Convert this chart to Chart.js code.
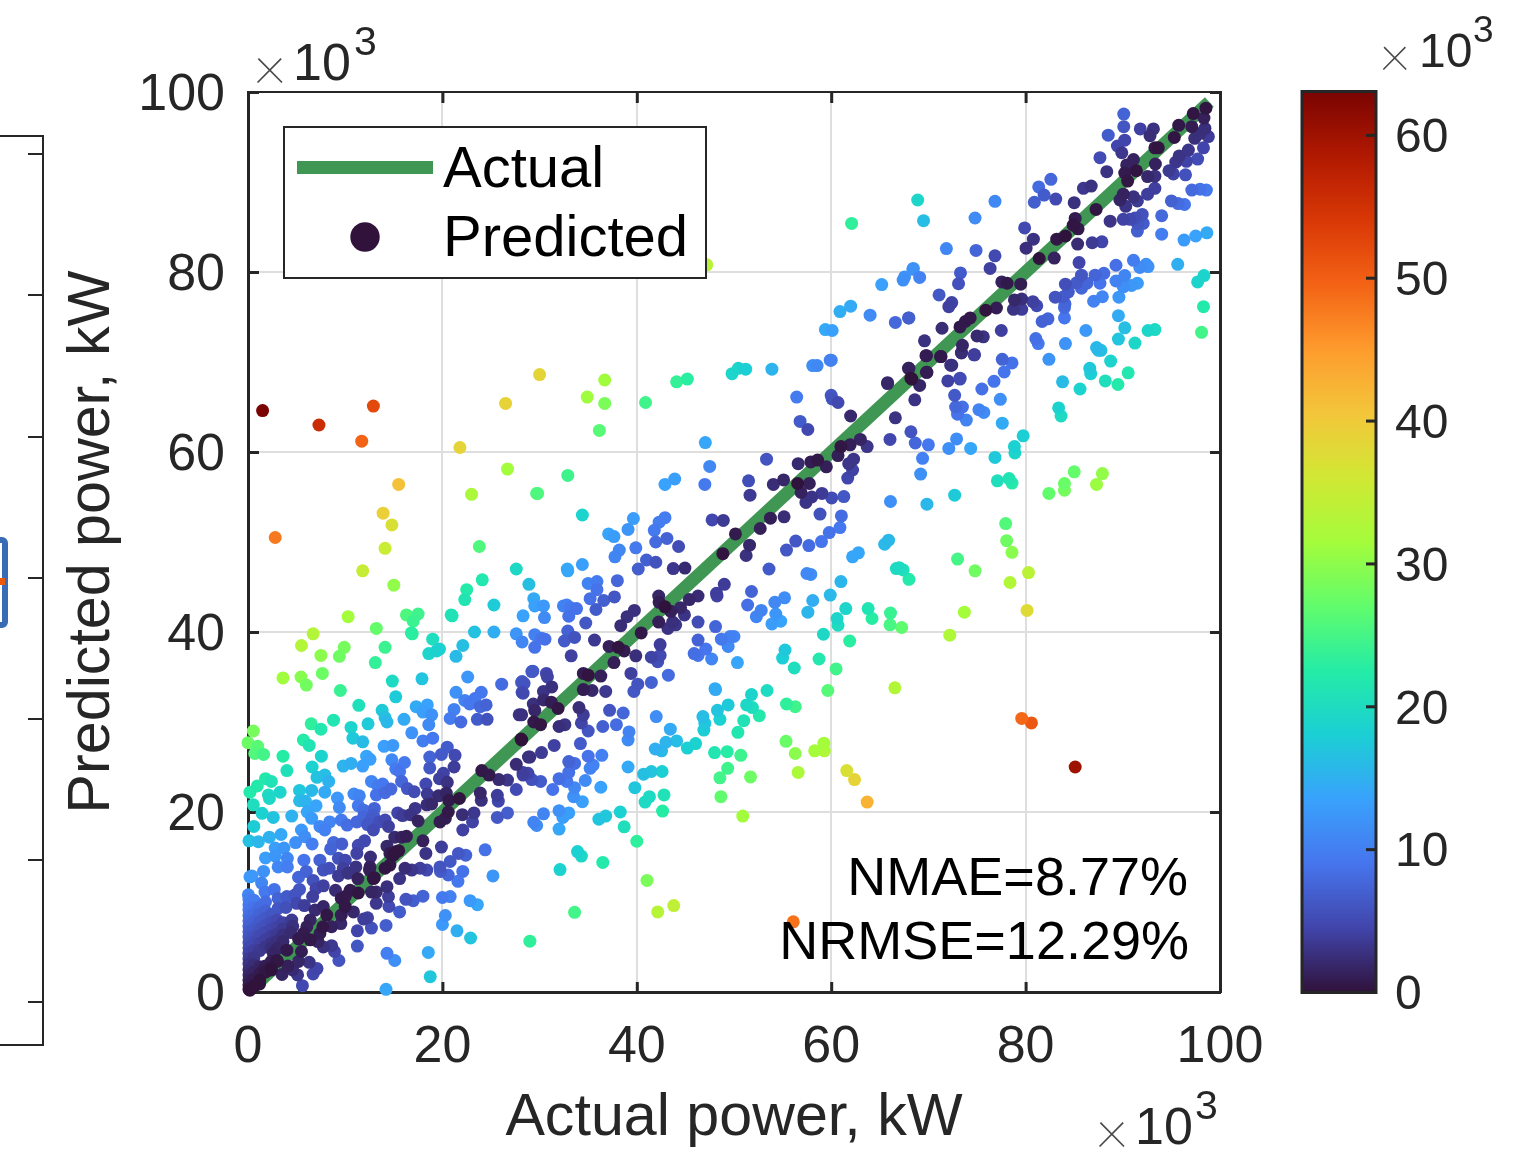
<!DOCTYPE html>
<html>
<head>
<meta charset="utf-8">
<title>Actual vs predicted power</title>
<script src="https://cdn.jsdelivr.net/npm/chart.js@4/dist/chart.umd.min.js"></script>
<style>
  html, body { margin: 0; padding: 0; background: #fff; }
  canvas { display: block; }
</style>
</head>
<body>
<canvas id="scatterChart" width="1534" height="1161"></canvas>
<script>
// all values in kW x 10^3, [actual, predicted]
const outliers = [[1.5,64.6],[7.3,63],[12.9,65.1],[11.7,61.2],[26.5,65.4],[21.8,60.5],[15.5,56.4],[26.7,58.1],[23,55.3],[29.7,55.4],[13.9,53.2],[14.8,51.9],[2.8,50.5],[14.1,49.3],[23.8,49.5],[11.8,46.8],[15,45.2],[79.6,30.4],[80.6,29.9],[85.1,25],[61.6,24.6],[62.4,23.6],[63.7,21.1],[56.1,7.8],[47.2,80.8],[62.1,85.4]];

const lowRange = [[27.6,47],[24.1,45.8],[28.9,45.3],[22.5,44.7],[22.3,43.6],[25.3,43],[29.4,43.7],[29.5,42.9],[28.3,41.8],[10.3,41.7],[16.3,41.9],[17.5,42],[17,41.2],[20.9,41.9],[21,41.8],[23.3,40],[25.3,40],[27.6,39.8],[29.5,39.7],[28.2,38.9],[29.5,38.3],[16.8,39.9],[16.9,39.8],[13.2,40.4],[6.7,39.8],[5.5,38.5],[9.9,38.3],[7.5,37.4],[9.4,37.3],[14.1,38.3],[19,39.2],[19.7,38.1],[19.4,37.9],[18.6,37.6],[22.1,38.5],[21.4,37.3],[13.1,36.6],
[3.6,34.9],[5.45,35],[6,34.1],[7.65,35.4],[9.5,33.5],[14.85,34.55],[15.2,32.8],[17.9,34.8],[22.6,35],[21.4,33.3],[22.3,32.4],[23.35,32.6],[24,33.3],[22.8,32],[24.5,31.9],[23.9,31.7],[26.1,34.2],[28.2,34.5],[28.4,34.3],[28.2,33.3],[27.9,30.8],[29.2,35.6],[21.2,31.4],[20.8,30.4],[21.9,30],[23.6,30.3],[24.6,30.3],[11.4,31.85],[13.8,31.3],[14.1,30.5],[14.3,30],[12.35,29.8],[16.05,30.3],[17.3,31.7],[18.45,31.9],[18,31.1],[18.9,30.8],[18.6,29.7],[16.85,28.8],[18,27.9],[19,28.2],[6.5,29.8],[7.5,29.2],[8.8,30.2],[10.6,29.4],[10.8,28.2],[11.8,27.8],[5.7,28],[6.3,27.4],[0.55,29],[0,27.7],[1,27.3],[0.7,26.5],[1.6,26.4],[3.6,26.2],[7.55,26.2],[4,24.6],[6.6,25],[9.8,25.1],[10.6,25.4],[11.8,25.1],[12.2,26.2],[12.55,25.85],[14,27.3],[14.9,27.4],[14.8,25.8],[16.1,25.5],[15.2,24.8],[15.6,24.5],[18.7,26.1],[18.7,24.9],[19.9,26.4],[20.5,27.2],[21.3,26.3],[21.2,25],[20.1,24.3],[19.7,23.7],[20.5,23.3],[18.3,23.1],[18.45,22],[19.6,21.8],[20.4,22.1],[18.4,20.8],[18.9,20.9],[20.65,21.3],[21.75,21.5],[17.2,20.4],[16.7,19.7],[15.4,19.9],[15.9,19.6],[17.5,19],[20.6,20],[20.3,19.3],[19.75,18.9],[22.05,19.7],[23.25,19.9],[23.1,18.9],[22.1,18],[23.9,22.1],[24,21.3],[25.65,21.85],[25.75,21.2],[26.7,19.9],[25.65,19.4],[27.6,22.5],[27.6,25.3],[28.3,24.4],[28.85,26.1],[25.8,23.6],[26.7,23.55],[24.05,24.6],[24.8,24.1],[28.1,28.1],
[1.8,23.7],[2.4,23.4],[0.96,22.9],[0.2,22.2],[2.1,21.9],[2.2,21.5],[3.3,22.2],[5.3,22.4],[6.55,22.4],[7.9,22.2],[5.3,21.25],[5.9,21.2],[0.55,20.8],[1.45,19.85],[2.6,19.4],[4.5,19.55],[0.6,18.4],[0.1,16.8],[1.07,16.7],[2.2,17.2],[3.4,17.5],[2.8,16],[3.7,16],[4.05,14.85],[2.8,15.1],[1.8,14.9],[3.1,13.9],[4.05,13.9],[7.1,23.85],[7.9,24.1],[8.3,23.4],[9.2,21.55],[9.4,20.5],[10.9,22],[11.45,21.8],[11.35,20.7],[11.9,20.2],[13,20.4],[12.7,23.4],[13.35,22.9],[13.85,23.1],[14.7,22.55],[14.1,22.15],[13.2,21.9],[15.8,23.4],[16.4,22.6],[17.1,22.25],[12.9,19.65],[12.65,19.1],[11.9,19.5],[7,20.7],[6.1,20],[6.55,19.3],[8.4,18.9],[7.9,18],[7.4,18.4],[5.5,18],[5.85,17.25],[4.9,16.6],[6.6,16.45],[9.6,19.1],[10.2,18.55],[11.2,18.9],[12.3,18.6],[12.9,18],[13.5,18.9],[14.1,19.1],[14.45,18.4],[8.8,16.6],[9.65,16.45],[8.5,15.9],[5.75,14.65],[7.4,14.65],[11.35,16.3],[12,16.8],[11.2,15.4],[15.1,17.2],[15.8,17.2],[16.3,17.3],[14.3,16.2],[18,16.8],[19.9,16.1],[18.3,15.4],[15.3,15.6],[14.6,15.4],[12.6,15],[9.3,14.85],[10,14.65],[11.1,13.9],[12.55,13.9],[14.6,14.1],[12.5,13.55],[8.35,13.75],[7.75,13.55],[6,13.4],[9.8,13.75],[9.3,12.9],[5.2,12.75],[10.3,13.2],[6.7,12.4],[7.75,11.8],[7,11.5],[5.3,11.4],[4.85,10.8],[6.65,10.6],[9,11.3],[11.3,12.6],[12.9,12.6],[14.1,13.75],[16.15,13.75],[16.85,13.55],[17.7,13.75],[18.4,13.55],[15.6,12.6],[14.3,11.7],[14.45,10.6],[13.2,11.1],[12.7,11.1],[13.2,9.85],[14.5,9.5],[15.6,8.9],[19.75,13.9],[19.8,13.4],[20.6,13],[21.6,12.3],[22.1,13.4],[20.8,14.5],[21.65,15.4],[22.4,15.2],[24.4,15.8],[25.2,12.9],[16.25,10.3],[17,10.15],[18,10.65],[20,10.5],[20.8,10.6],[22.85,10.15],[23.6,9.7],[20.3,8.5],[20,7.5],[21.5,6.8],[22.9,6],[18.55,4.4],[18.75,1.7],[14.2,0.3],[14.3,4.3],[15.1,3.5],[11.25,5.1],[12.7,7.1],[14.2,7.4],[11.25,6.8],[11.9,8.1],[12.3,8.25],[10.85,8.9],[9.35,3.5],[8.9,4.5],[8.6,5.15],[7.75,5],[7.2,5.6],[7.1,2.6],[6.7,2],[5.6,0.7],[5.1,1.9],[3.5,1.95],[4.6,2.45]];

const nearOrigin = [[15.5,15.7],[14.95,15.2],[13,12.7],[10.5,11.3],[11.35,11],[10,10.6],[9.6,10.4],[10,9.5],[9.6,8.55],[8.1,8.55],[7.75,9.5],[7.7,7.25],[8.6,7.25],[9.55,7.6],[6.4,8],[6.05,7.25],[5.7,6.5],[5.2,5.9],[6.4,5.8],[7.4,6.5],[4,4.65],[5.5,4.5],[5.2,3.4],[2.6,4.3],[3,3.4],[2.4,2.45],[1.6,2.45],[1.2,1.3],[0.2,0.2],[4.5,8],[3.1,10.4],[4,10.6],[1.6,13.4],[0.2,12.8],[0.4,12.9],[1.4,12.1],[1.75,11.1],[0.04,10.8],[3.1,9.3],[5,9.85],
[0.1,0.3],[0.1,0.8],[0.1,1.3],[0.1,1.9],[0.1,2.5],[0.1,3.1],[0.1,3.7],[0.1,4.3],[0.1,4.9],[0.1,5.5],[0.1,6.1],[0.1,6.7],[0.1,7.3],[0.1,7.9],[0.1,8.5],[0.1,9.1],[0.1,9.7],[0.1,10.3],
[0.6,0.6],[0.6,1.4],[0.6,2.2],[0.6,3],[0.6,3.8],[0.6,4.6],[0.6,5.4],[0.6,6.2],[0.6,7],[0.6,7.8],[0.6,8.6],[0.6,9.4],[0.6,10.2],
[1.2,0.9],[1.2,2],[1.2,2.8],[1.2,4.6],[1.2,5.4],[1.2,6.2],[1.2,7],[1.2,7.8],[1.2,8.6],[1.2,9.4],
[1.8,2.2],[1.8,2.9],[1.8,5],[1.8,5.8],[1.8,6.6],[1.8,7.4],[1.8,8.2],[1.8,9],[1.8,10],
[2.4,2.7],[2.4,3.4],[2.4,4.9],[2.4,5.4],[2.4,6.2],[2.4,7],[2.4,7.8],[2.4,8.6],
[3,3.5],[3,4.8],[3,5.6],[3,6.4],[3,7.2],[3,8],
[3.6,5.6],[3.6,6.3],[3.6,7],[3.6,7.7],[4.1,2.9],[4.4,6.6],[4.6,7.3],[3.9,9.4],[2.7,11.4],[6.3,3.3],[5.8,9.6],[6.9,9.1]];

const midRange = [[30,68.6],[36.7,68],[34.9,66.1],[36.7,65.4],[36.15,62.4],[40.9,65.5],[44.1,67.8],[45.2,68.1],[49.8,68.7],[50.45,69.3],[51.2,69.2],[53.9,69.2],[58.55,69.6],[60,70.2],[47.05,61.05],[47.5,58.4],[43.9,57],[42.9,56.4],[47,56.4],[56.45,66.1],[60.1,65.9],[60.7,65.5],[62,64],[65.8,67.6],[66.6,63.8],[56.8,63.4],[57.6,62.5],[66.05,61.4],[61,60.6],[61.95,60.8],[63,61.4],[63.7,60.6],[60.7,59.6],[53.35,59.2],[56.6,58.7],[57.9,58.9],[58.6,59.1],[59.5,58.35],[62.3,59.2],[61.8,58.7],[62.2,58],[61.7,57.1],[51.5,56.8],[51.65,55.2],[54.05,56.4],[55.1,56.9],[56.55,56.5],[57.75,56.5],[56.9,55.5],[58,55],[57.4,54.4],[59.05,55.4],[60.05,54.9],[61.3,55.05],[58.85,53.1],[61.05,52.9],[60.9,51.6],[59.8,51.05],[59,50.05],[57.7,49.6],[56.35,50.1],[55.4,49.1],[66.1,54.5],[65.9,50.2],[65.5,49.75],[62.8,48.8],[62.2,48.35],[55.15,52.8],[53.75,52.65],[52.7,51.5],[50.15,50.9],[51.6,49.65],[51.25,48.5],[48.85,48.7],[47.75,52.45],[48.9,52.4],[39.65,52.6],[42.9,52.7],[42.3,52.2],[39.1,51.4],[41.8,51.3],[43.1,50.4],[41.95,50],[44.3,49.5],[37.1,50.9],[37.65,50.6],[34.4,53],[32.9,57.4],[29.8,55.4],[38.2,49.1],[37.75,48.35],[39.9,49.35],[41,48],[41.95,47.75],[40.15,47],[43.75,47.05],[44.95,47.1],[32.85,47],[32.9,46.8],[34.4,47.5],
[30.4,42.9],[30.5,41.6],[32.8,43],[32.45,42.9],[33.8,42.6],[33,41.75],[33.2,42.7],[35,45.4],[35.9,45.6],[35.9,44.7],[38,45.7],[35.2,43.7],[36.6,43.5],[37.7,43.9],[35.8,42.5],[34.75,41],[32.9,40.1],[33.6,39.4],[32.55,39],[35.65,39.1],[33.25,37.35],[39.75,42.4],[39,41.7],[38.35,40.7],[42.25,44],[42.3,43.3],[42.9,42.8],[43.5,42.3],[44.5,42.7],[44.9,41.9],[45.4,43.6],[46.3,44],[48.2,44.3],[48.25,44],[49,45.3],[51.8,44.5],[53.6,47],[57.5,46.5],[57.9,46.4],[61,45.6],[59.9,44.1],[58.1,43.5],[55.2,43.8],[54.2,43.3],[51.4,43],[52.8,42.4],[52.3,41.7],[54.3,42],[54.8,41.2],[53.9,40.9],[57.6,42.2],[61.5,42.6],[60.6,41.5],[60.7,40.75],[63.8,42.6],[64.2,41.5],[66.1,42.1],[66.05,40.8],[67.25,40.5],[42.25,41.1],[43.7,41.1],[44,40.8],[43.2,40.4],[40.45,39.9],[46.3,41.1],[48.1,40.6],[46.3,39.1],[48.7,39.2],[49.6,39.5],[50,39.5],[49.4,38.4],[47.1,38.1],[45.9,37.6],[46.3,37.4],[47.7,37],[50.35,36.6],[42.4,38.6],[42.4,37.4],[41.5,37.2],[42.15,36.7],[43.25,35.2],[39.9,37.35],[37.15,38.4],[38.1,38.3],[38.7,37.9],[37.65,36.6],[39.4,35.4],[40.1,34.2],[39.7,33.4],[41.5,34.4],[35,35.2],[34.5,35.4],[36.3,35.1],[34.5,33.6],[35.4,33.5],[36.8,33.4],[29.3,35.65],[30.7,35.4],[30.8,35],[31.25,33.9],[30.4,33.4],[28.15,34.4],[28.3,33.2],[59.2,39.75],[61.9,39],[55.25,38],[55,37.1],[56.2,36],[58.75,37],[60.5,35.9],[59.65,33.5],[66.55,33.8],[30.2,39.3],[30.55,39.2],[48.05,33.7],[48.1,33.6],[51.8,33.05],[53.4,33.5],[66.7,47.05],
[49.4,31.9],[48.3,31.3],[46.8,30.6],[47,29.85],[46.9,29.1],[48.55,30.3],[51.3,31.9],[51.9,31.6],[52.6,30.7],[51,30.15],[50.4,28.85],[55.4,32],[56.3,31.7],[42,30.6],[43.45,29.2],[44.1,27.9],[43,27.75],[45.2,27.1],[46.05,27.6],[41.9,27],[42.55,26.8],[48,26.6],[49.3,26.7],[50.7,26.3],[55.35,27.85],[56.3,26.5],[59.25,27.65],[58.3,26.8],[59.3,26.8],[49.35,24.85],[48.55,23.8],[51.7,23.9],[56.6,24.4],[48.65,21.7],[50.9,19.55],[39.1,25],[40.7,24.2],[41.5,24.5],[42.6,24.5],[39.8,22.7],[36.3,22.75],[42.8,21.9],[41.3,21.7],[40.85,21.1],[42.65,20.1],[38.3,20],[36.8,19.55],[36.1,19.2],[38.7,18.35],[40,16.75],[36.5,14.4],[33.9,15.6],[34.3,15.1],[32.1,13.6],[41.05,12.4],[33.6,8.85],[29,5.65],[42.15,8.9],[43.8,9.6],
[32,20.15],[33,19.9],[32.4,19.4],[32,18.1],[30.4,19.8],[29.4,18.85],[29.7,18.5],[34.4,21.15],[33.5,21.7],[33.6,22.7],[34.7,23.5],[32.8,23.4],[32,23.7],[31.35,22.5],[30.1,23.4],[33,24.4],[33,25.6],[33.6,25.4],[35.2,24.85],[35.5,25.2],[35,26.2],[36.4,26.3],[34.2,27.6],[31.5,27.4],[30.2,26.6],[29,26.1],[35,29],[36.5,29.5],[37.9,29.7],[39.2,28.9],[39.1,28],[37.2,31.3],[38.6,31],[34.05,31.6],[34.5,30.8],[34.3,29.9],[32.6,29.7],[32,29.5],[30.1,29.7],[29.4,30],[29.5,31.3],[29.35,32],[30.4,32.45],[31.2,32.2],[31.9,31.5],[28.15,30.8],[28.15,28],[28.8,24.3],[28.3,24.1],[29.2,23.6],
[62,76.2],[60.9,75.6],[59.4,73.6],[60.1,73.5],[59.9,70.2],[58.1,69.6],[64,75.2],[65.2,78.6],[66.6,74.4],[67.4,79.1],[68.4,80.3],[68,74.9],[60,66.3]];

const highRange = [[69.8,70.7],[71.3,70.6],[73.4,71],[74.75,70.8],[77.6,70.3],[78.6,69.9],[82.4,70.3],[77.8,68.9],[76.75,67.85],[72.4,69.65],[69.85,68.85],[68,69.3],[68.3,68.1],[65.8,67.7],[69.1,67.4],[72,67.9],[73.25,68.1],[68.6,65.8],[75.5,67],[77.4,65.85],[72.7,66.3],[73.5,65],[72.8,65],[73,64.2],[73.9,63.55],[75.2,64.7],[75.7,64.4],[77.6,63.2],[68.2,62.25],[68.65,61],[70,60.8],[72.9,61.45],[72.1,60.4],[74.35,60.4],[69.4,59.3],[69.2,57.55],[76.85,59.4],[78.85,60.6],[78.9,59.9],[79.75,61.8],[77.1,56.8],[78.3,57.05],[78.6,56.55],[72.7,55.2],[69.85,54.2],[85,57.8],[84,56.5],[84,55.75],[82.4,55.4],[87.9,57.6],[87.3,56.4],[77.95,52.05],[78.05,50.15],[78.6,48.85],[73,48.1],[74.8,46.8],[80.3,46.6],[78.4,45.5],[80.15,42.4],[73.7,42.2],[72.2,39.65],[67,47.15],[67.4,46.9],[68,45.85],[87.5,71.3],[88.75,70.1],[90.55,68.8],[86.6,69.3],[86.7,68.7],[83.8,67.8],[85.6,67],[88.2,67.9],[89.5,67.5],[83.4,64.9],[83.65,64],
[90.1,97.55],[90.1,96.15],[91.8,95.9],[88.5,95.2],[93.15,95.9],[92.8,95.15],[90.2,94.65],[89.45,94],[89.9,93.25],[95.75,96.3],[97.25,97.6],[98.55,98.2],[98.35,97.1],[97.1,96.15],[95.3,94.95],[98.45,95.95],[97.95,95.4],[97.4,94.85],[98.8,95.05],[98.3,93.8],[93.3,93.8],[93.65,93.8],[87.65,92.7],[88.35,91.15],[91.1,92.5],[90.4,91.9],[90.2,91],[91.4,91.25],[90.5,90.1],[92.55,90.6],[93.3,90.65],[93.35,92],[95.8,92.9],[96.75,93.55],[96.55,92.3],[95.45,92.2],[97.7,92.55],[94.75,91.25],[95.2,90.9],[96.45,90.8],[82.6,90.3],[81.35,89.45],[81.9,88.55],[83.1,88.1],[80.9,87.75],[85.95,89.3],[86.75,89.55],[85,87.7],[93.3,89.3],[92.55,88.65],[90.05,88.65],[89.7,88],[91.1,88.35],[91.5,87.9],[90.3,87.3],[87.25,86.95],[97.1,89.1],[97.95,89.2],[98.6,89.1],[95,87.9],[95.7,87.6],[96.35,87.5],[92,86.4],[91.25,86],[90.05,85.85],[90.75,85.85],[88.7,85.65],[94,86.25],[92.1,85.4],[91.5,85.4],[91.5,84.55],[85.1,85.95],[84.9,85.2],[85.4,84.8],[94,84.2],[96.3,83.55],[97.5,84],[98.65,84.35],[79.9,84.9],[80.8,83.65],[80.05,82.65],[83.2,83.65],[84.1,84],[85.35,83.1],[86.85,83.25],[87.85,83.35],[81.4,81.5],[82.95,81.55],[85.5,81.05],[89.3,80.75],[91.1,81.3],[91.75,80.5],[92.4,80.85],[92.6,80.6],[95.65,80.85],[68.9,88],[69.5,85.7],[76.85,87.85],[74.8,86],[71.85,82.6],[74.9,82.4],[76.85,81.8],[76.35,80.4],[68.45,80.4],[69.1,79.4],[67.55,79.45],[73.3,79.9],[73.1,78.7],[77.55,78.9],[78.1,78.75],[79.5,78.65],[71.1,77.45],[72.4,76.6],[72.1,76.15],[78.85,76.9],[79.6,77],[78.75,75.85],[79.6,75.85],[80.75,76.7],[81.15,76.25],[77,76],[75.9,75.75],[67.95,74.9],[74.3,74.9],[73.8,74.5],[73.25,73.9],[71.4,73.75],[77.5,73.5],[75,72.9],[75.65,72.8],[69.6,72.35],[73.5,71.85],[73.4,71.05],[69.75,70.7],[71.25,70.6],[74.7,70.8],[72.3,69.65],[67.95,69.3],[69.8,68.85],[68.2,68.2],[73.25,68.2],
[84.1,78.65],[85.75,79.65],[85.25,78.8],[85.75,78.2],[86.3,78.75],[87.15,79.65],[88.05,79.85],[87.65,78.75],[89.3,79],[90.2,79.6],[90.05,78.35],[90.9,78.5],[91.5,78.75],[89.6,77.2],[87.9,77.25],[87,76.75],[83.05,77.2],[83.9,77.25],[84.4,77.8],[84.05,76.45],[84,76.05],[84,74.9],[82.3,74.8],[81.7,74.5],[86.2,73.5],[89.55,75.15],[90.2,73.8],[89.55,72.55],[92.6,73.5],[93.3,73.6],[91.25,72.1],[84.1,72.05],[81.05,72.6],[81.3,72.05],[87.3,71.6],[87.75,71.3],[97.7,78.9],[98.35,79.6],[98.3,76.15],[98.1,73.3]];

const diagonalEnds = [0, 98.9];
const axisTicks = [0, 20, 40, 60, 80, 100];
const colorbarTicks = [0, 10, 20, 30, 40, 50, 60];
const colorbarMax = 63;

// turbo colormap, evenly spaced
const turbo = ['#30123b','#4145ab','#4675ed','#39a2fc','#1bcfd4','#24eca6','#61fc6c','#a4fc3b','#d1e834','#f3c63a','#fe9b2d','#f36315','#d93806','#b11901','#7a0402'];

const INK = '#262626';
const GREEN = '#409653';
const SANS = '"Liberation Sans", Arial, sans-serif';

function hexToRgb(hex) {
  return [1, 3, 5].map(i => parseInt(hex.substr(i, 2), 16));
}

function errorColor(err) {
  let t = Math.min(err / colorbarMax, 1) * (turbo.length - 1);
  let i = Math.min(Math.floor(t), turbo.length - 2);
  let a = hexToRgb(turbo[i]);
  let b = hexToRgb(turbo[i + 1]);
  let c = a.map((v, k) => Math.round(v + (b[k] - v) * (t - i)));
  return 'rgb(' + c.join(',') + ')';
}

// dark points (small error) end up on top
let points = outliers.concat(lowRange, nearOrigin, midRange, highRange)
  .map(p => ({ x: p[0], y: p[1] }))
  .sort((p, q) => Math.abs(q.x - q.y) - Math.abs(p.x - p.y));

function drawExponent(ctx, x, y, size, gap3) {
  ctx.textAlign = 'left';
  ctx.textBaseline = 'alphabetic';
  // thin cross like the reference
  ctx.fillStyle = '#4a4a4a';
  ctx.font = '100 ' + Math.round(size * 1.2) + 'px Roboto, ' + SANS;
  ctx.fillText('×', x, y + 3);
  ctx.fillStyle = INK;
  ctx.font = size + 'px ' + SANS;
  ctx.fillText('10', x + 39, y);
  ctx.font = Math.round(size * 0.78) + 'px ' + SANS;
  ctx.fillText('3', x + gap3, y - 25);
}

// the neighbouring panel that is cut off at the left edge
function drawLeftPanel(ctx) {
  ctx.fillStyle = INK;
  ctx.fillRect(0, 135, 44, 2);
  ctx.fillRect(0, 1044, 44, 2);
  ctx.fillRect(42, 135, 2, 911);
  [154, 295, 437, 578, 719, 860, 1002].forEach(y => ctx.fillRect(28, y - 1, 15, 2));
  ctx.strokeStyle = '#3a6cb5';
  ctx.lineWidth = 6;
  ctx.beginPath();
  ctx.roundRect(-40, 540, 45, 85, 3);
  ctx.stroke();
  ctx.fillStyle = '#e8590c';
  ctx.fillRect(0, 578, 5, 7);
}

function drawFrame(ctx, area, xs, ys) {
  ctx.fillStyle = INK;
  ctx.fillRect(area.left - 1, area.top - 1, area.width + 2, 2);
  ctx.fillRect(area.left - 1, area.bottom - 1, area.width + 2, 3);
  ctx.fillRect(area.left - 1, area.top - 1, 3, area.height + 2);
  ctx.fillRect(area.right - 1, area.top - 1, 3, area.height + 2);
  xs.ticks.forEach(t => {
    let px = xs.getPixelForValue(t.value);
    ctx.fillRect(px - 1, area.top, 3, 11);
    ctx.fillRect(px - 1, area.bottom - 10, 3, 10);
  });
  ys.ticks.forEach(t => {
    let py = ys.getPixelForValue(t.value);
    ctx.fillRect(area.left, py - 1, 11, 3);
    ctx.fillRect(area.right - 10, py - 1, 10, 3);
  });
}

function drawColorbar(ctx, area, cb) {
  let left = 1302, right = 1376;
  let grad = ctx.createLinearGradient(0, area.bottom, 0, area.top);
  turbo.forEach((c, i) => grad.addColorStop(i / (turbo.length - 1), c));
  ctx.fillStyle = grad;
  ctx.fillRect(left, area.top, right - left, area.height);
  ctx.strokeStyle = INK;
  ctx.lineWidth = 3;
  ctx.strokeRect(left, area.top - 0.5, right - left, area.height + 1);
  ctx.fillStyle = INK;
  cb.ticks.forEach(t => {
    let py = cb.getPixelForValue(t.value);
    ctx.fillRect(right - 10, py - 1, 10, 3);
  });
}

function drawLegend(ctx) {
  ctx.fillStyle = '#fff';
  ctx.fillRect(284, 127, 422, 151);
  ctx.strokeStyle = INK;
  ctx.lineWidth = 2;
  ctx.strokeRect(284, 127, 422, 151);
  ctx.fillStyle = GREEN;
  ctx.fillRect(297, 161, 136, 13);
  ctx.fillStyle = turbo[0];
  ctx.beginPath();
  ctx.arc(365, 237, 14.7, 0, Math.PI * 2);
  ctx.fill();
  ctx.fillStyle = '#000';
  ctx.font = '58px ' + SANS;
  ctx.textAlign = 'left';
  ctx.textBaseline = 'alphabetic';
  ctx.fillText('Actual', 443, 187);
  ctx.fillText('Predicted', 443, 256);
}

const extras = {
  id: 'extras',
  beforeDatasetsDraw(chart) {
    let ctx = chart.ctx;
    ctx.save();
    drawLeftPanel(ctx);
    drawFrame(ctx, chart.chartArea, chart.scales.x, chart.scales.y);
    drawColorbar(ctx, chart.chartArea, chart.scales.cb);
    ctx.restore();
  },
  afterDatasetsDraw(chart) {
    let ctx = chart.ctx;
    ctx.save();
    drawLegend(ctx);
    ctx.fillStyle = '#000';
    ctx.font = '54px ' + SANS;
    ctx.textAlign = 'right';
    ctx.textBaseline = 'alphabetic';
    ctx.fillText('NMAE=8.77%', 1188, 895);
    ctx.fillText('NRMSE=12.29%', 1189, 959);
    drawExponent(ctx, 254, 80, 52, 100);
    drawExponent(ctx, 1096, 1144, 52, 99);
    drawExponent(ctx, 1380, 67, 48, 93);
    ctx.restore();
  }
};

const tickFont = { family: SANS, size: 52, lineHeight: 1 };
const titleFont = { family: SANS, size: 59.2, lineHeight: 1 };

new Chart(document.getElementById('scatterChart'), {
  type: 'scatter',
  data: {
    datasets: [{
      label: 'Predicted',
      data: points,
      order: 1,
      clip: false,
      pointRadius: 6.5,
      pointHoverRadius: 6.5,
      borderWidth: 0,
      backgroundColor: ctx => errorColor(Math.abs(ctx.raw.x - ctx.raw.y)),
    }, {
      label: 'Actual',
      type: 'line',
      data: diagonalEnds.map(v => ({ x: v, y: v })),
      order: 2,
      borderColor: GREEN,
      borderWidth: 13,
      borderCapStyle: 'butt',
      pointRadius: 0,
      fill: false,
    }]
  },
  options: {
    responsive: false,
    animation: false,
    layout: { padding: { top: 92, left: 0, right: 0, bottom: 0 } },
    plugins: { legend: { display: false }, tooltip: { enabled: false } },
    scales: {
      x: {
        type: 'linear',
        min: axisTicks[0],
        max: axisTicks[axisTicks.length - 1],
        afterBuildTicks: s => { s.ticks = axisTicks.map(v => ({ value: v })); },
        afterFit: s => { s.height = 169; s.paddingLeft = 0; s.paddingRight = 0; },
        border: { display: false },
        grid: { color: '#dedede', lineWidth: 2, drawTicks: false },
        ticks: { font: tickFont, color: INK, padding: 30, maxRotation: 0 },
        title: { display: true, text: 'Actual power, kW', font: titleFont, color: INK, padding: { top: 0, bottom: 13 } },
      },
      y: {
        type: 'linear',
        min: axisTicks[0],
        max: axisTicks[axisTicks.length - 1],
        afterBuildTicks: s => { s.ticks = axisTicks.map(v => ({ value: v })); },
        afterFit: s => { s.width = 248; s.paddingTop = 0; s.paddingBottom = 0; },
        border: { display: false },
        grid: { color: '#dedede', lineWidth: 2, drawTicks: false },
        ticks: { font: tickFont, color: INK, padding: 23, labelOffset: 4 },
        title: { display: true, text: 'Predicted power, kW', font: titleFont, color: INK, padding: { top: 63, bottom: 0 } },
      },
      cb: {
        axis: 'y',
        type: 'linear',
        position: 'right',
        min: 0,
        max: colorbarMax,
        afterBuildTicks: s => { s.ticks = colorbarTicks.map(v => ({ value: v })); },
        afterFit: s => { s.width = 314; s.paddingTop = 0; s.paddingBottom = 0; },
        border: { display: false },
        grid: { display: false, drawTicks: false },
        ticks: { font: { family: SANS, size: 48, lineHeight: 1 }, color: INK, padding: 175, labelOffset: 4 },
      }
    }
  },
  plugins: [extras]
});
</script>
</body>
</html>
